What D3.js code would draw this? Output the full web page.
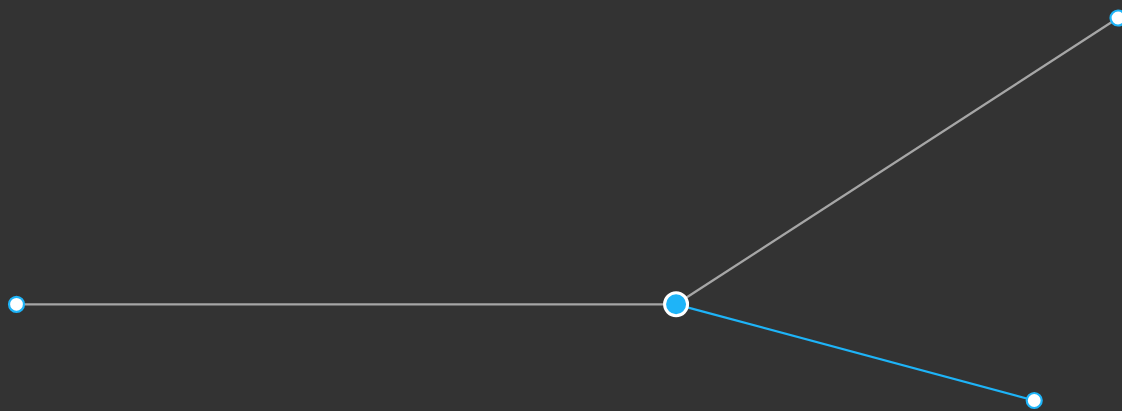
<!DOCTYPE html>
<html><head><meta charset="utf-8">
<script src="https://cdn.jsdelivr.net/npm/d3@7"></script>
<style>html,body{margin:0;padding:0;background:#333333;overflow:hidden}</style>
</head><body>
<svg id="chart" width="1122" height="411"></svg>
<script>
const nodeNames = ["A", "B", "C", "D"];
const nodeX = [0, 100, 167, 154.3];
const nodeY = [0, 0, 100, -33.6];
const nodeRoot = [false, true, false, false];
const linkSource = ["A", "B", "B"];
const linkTarget = ["B", "C", "D"];
const linkActive = [false, false, true];

const width = 1122, height = 411;
const svg = d3.select("#chart");
svg.append("rect").attr("width", width).attr("height", height).attr("fill", "#333333");

const x = d3.scaleLinear().domain([0, 167]).range([16.5, 1118]);
const y = d3.scaleLinear().domain([-33.6, 100]).range([400.5, 18]);

const nodes = nodeNames.map((n, i) => ({name: n, x: nodeX[i], y: nodeY[i], root: nodeRoot[i]}));
const byName = new Map(nodes.map(d => [d.name, d]));
const links = linkSource.map((s, i) => ({source: byName.get(s), target: byName.get(linkTarget[i]), active: linkActive[i]}));

svg.append("g").selectAll("line").data(links).join("line")
  .attr("x1", d => x(d.source.x)).attr("y1", d => y(d.source.y))
  .attr("x2", d => x(d.target.x)).attr("y2", d => y(d.target.y))
  .attr("stroke", d => d.active ? "#1eb4f8" : "#a6a6a6")
  .attr("stroke-width", 2.3);

svg.append("g").selectAll("circle").data(nodes).join("circle")
  .attr("cx", d => x(d.x)).attr("cy", d => y(d.y))
  .attr("r", d => d.root ? 11.5 : 7.5)
  .attr("fill", d => d.root ? "#1eb4f8" : "#ffffff")
  .attr("stroke", d => d.root ? "#ffffff" : "#1eb4f8")
  .attr("stroke-width", d => d.root ? 3 : 2.2);
</script>
</body></html>
